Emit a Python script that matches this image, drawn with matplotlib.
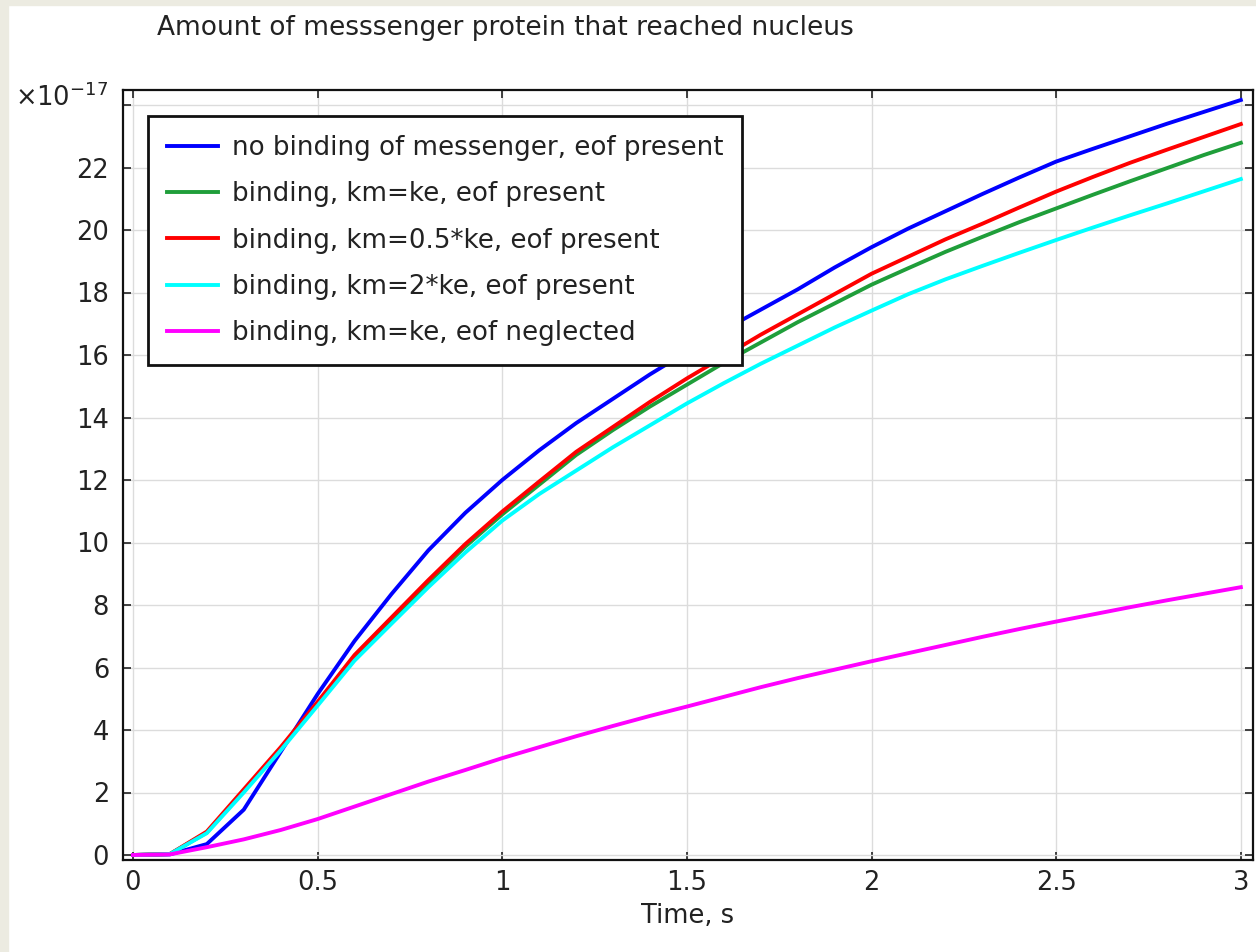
import matplotlib.pyplot as plt
from matplotlib.patches import Rectangle

# data (values in units of 1e-17)
time = [0, 0.1, 0.2, 0.3, 0.4, 0.5, 0.6, 0.7, 0.8, 0.9, 1.0,
        1.1, 1.2, 1.3, 1.4, 1.5, 1.6, 1.7, 1.8, 1.9, 2.0,
        2.1, 2.2, 2.3, 2.4, 2.5, 2.6, 2.7, 2.8, 2.9, 3.0]

no_binding = [0, 0.02, 0.35, 1.45, 3.3, 5.15, 6.85, 8.35, 9.75, 10.95, 12.0,
              12.95, 13.82, 14.6, 15.38, 16.1, 16.8, 17.45, 18.1, 18.8, 19.45,
              20.05, 20.6, 21.15, 21.68, 22.19, 22.6, 23.0, 23.4, 23.78, 24.16]

km_ke = [0, 0.03, 0.72, 2.05, 3.4, 4.85, 6.33, 7.52, 8.72, 9.87, 10.9,
         11.85, 12.8, 13.6, 14.35, 15.05, 15.75, 16.4, 17.05, 17.65, 18.25,
         18.78, 19.3, 19.78, 20.25, 20.69, 21.13, 21.56, 21.98, 22.4, 22.79]

km_half = [0, 0.03, 0.75, 2.1, 3.45, 4.9, 6.4, 7.6, 8.8, 9.95, 10.99,
           11.95, 12.9, 13.7, 14.5, 15.25, 15.95, 16.65, 17.3, 17.95, 18.6,
           19.15, 19.7, 20.2, 20.72, 21.23, 21.7, 22.15, 22.57, 22.98, 23.39]

km_double = [0, 0.03, 0.7, 2.0, 3.35, 4.78, 6.22, 7.4, 8.57, 9.68, 10.7,
             11.55, 12.3, 13.05, 13.75, 14.45, 15.1, 15.72, 16.3, 16.88, 17.42,
             17.95, 18.42, 18.85, 19.27, 19.68, 20.08, 20.47, 20.85, 21.24, 21.63]

eof_neglected = [0, 0.02, 0.25, 0.5, 0.8, 1.15, 1.55, 1.95, 2.35, 2.72, 3.1,
                 3.45, 3.8, 4.13, 4.45, 4.75, 5.06, 5.37, 5.66, 5.93, 6.2,
                 6.46, 6.72, 6.98, 7.23, 7.47, 7.7, 7.93, 8.15, 8.36, 8.57]

labels = [
    'no binding of messenger, eof present',
    'binding, km=ke, eof present',
    'binding, km=0.5*ke, eof present',
    'binding, km=2*ke, eof present',
    'binding, km=ke, eof neglected',
]
colors = ['#0000ff', '#1f9e3a', '#ff0000', '#00ffff', '#ff00ff']
series = [no_binding, km_ke, km_half, km_double, eof_neglected]

xticks = [0, 0.5, 1, 1.5, 2, 2.5, 3]
xticklabels = ['0', '0.5', '1', '1.5', '2', '2.5', '3']
yticks = [0, 2, 4, 6, 8, 10, 12, 14, 16, 18, 20, 22, 24]
yticklabels = ['0', '2', '4', '6', '8', '10', '12', '14', '16', '18', '20', '22', '']

# =====================================================
# FIGURE
# =====================================================

W, H = 1256, 952
fig = plt.figure(figsize=(W / 100, H / 100), dpi=100)
fig.patch.set_facecolor('white')

# beige frame strips on the left and top
fig.add_artist(Rectangle((0, 0), 8 / W, 1, transform=fig.transFigure,
                         color='#ecebe1', zorder=0))
fig.add_artist(Rectangle((0, 1 - 5 / H), 1, 5 / H, transform=fig.transFigure,
                         color='#ecebe1', zorder=0))

ax = fig.add_axes([123 / W, 1 - 860 / H, (1253 - 123) / W, (860 - 90) / H])

for vals, col, lab in zip(series, colors, labels):
    ax.plot(time, vals, color=col, linewidth=2.8, label=lab)

ax.set_xlim(-0.027, 3.033)
ax.set_ylim(-0.16, 24.48)

ax.set_xticks(xticks)
ax.set_xticklabels(xticklabels)
ax.set_yticks(yticks)
ax.set_yticklabels(yticklabels)

ax.tick_params(direction='in', length=6, width=1.2, top=True, right=True,
               labelsize=18.5, colors='#222222', pad=7)
ax.tick_params(axis='y', pad=10)

ax.grid(True, color='#dcdcdc', linewidth=1.0)
ax.set_axisbelow(True)

for sp in ax.spines.values():
    sp.set_linewidth(1.6)
    sp.set_color('#111111')

ax.set_xlabel('Time, s', fontsize=18.5, color='#222222', labelpad=5)

leg = ax.legend(loc='upper left', bbox_to_anchor=(25 / 1130, 1 - 26 / 770),
                fontsize=18.8, frameon=True, fancybox=False, shadow=False,
                framealpha=1.0, handlelength=1.95, handletextpad=0.54,
                labelspacing=0.78, borderpad=0.72, borderaxespad=0)
leg.get_frame().set_edgecolor('#111111')
leg.get_frame().set_linewidth(2.0)
for line in leg.get_lines():
    line.set_linewidth(2.8)
for txt in leg.get_texts():
    txt.set_color('#222222')

fig.text(157 / W, 1 - 28 / H, 'Amount of messsenger protein that reached nucleus',
         fontsize=19, color='#222222', ha='left', va='center')

fig.text(15 / W, 1 - 98 / H, r'$\times$10$^{-17}$', fontsize=18.5,
         color='#222222', ha='left', va='center')

fig.savefig('out.png', dpi=100)
